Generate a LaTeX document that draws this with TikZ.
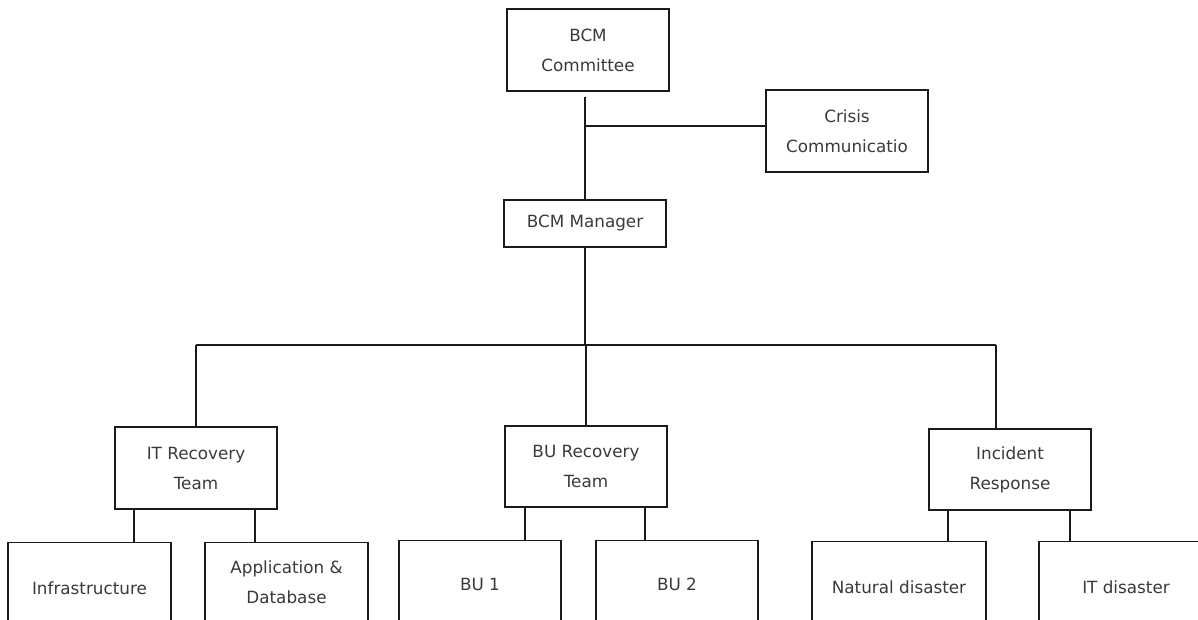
\documentclass[tikz,border=0pt]{standalone}
\usepackage{fontspec}
\setmainfont{DejaVu Sans}
\definecolor{txt}{HTML}{3A3A3A}
\definecolor{ln}{HTML}{1A1A1A}
\tikzset{
  box/.style={draw=ln, line width=1.2pt, rectangle, inner sep=0pt, align=center,
    text=txt, font=\fontsize{16.8}{30}\selectfont, minimum width=162pt, minimum height=82pt},
  conn/.style={draw=ln, line width=1.2pt}
}
\begin{document}
\begin{tikzpicture}[x=1pt,y=-1pt]
\useasboundingbox (0,0) rectangle (1198,619);
\clip (0,0) rectangle (1198,619);
\fill[white] (0,0) rectangle (1198,619);
% top level
\node[box] (committee) at (588,50) {BCM\\Committee};
\node[box] (crisis) at (847,131) {Crisis\\Communicatio};
\node[box, minimum height=47pt] (manager) at (585,223.5) {BCM Manager};
% second level
\node[box] (it) at (196,468) {IT Recovery\\Team};
\node[box, minimum height=81pt] (bu) at (586,466.5) {BU Recovery\\Team};
\node[box, minimum height=81pt] (inc) at (1010,469.5) {Incident\\Response};
% third level
\node[box, anchor=north, minimum width=163pt, minimum height=92pt] (infra) at (89.5,542) {Infrastructure};
\node[box, anchor=north, minimum width=163pt, minimum height=80pt] (app) at (286.5,542) {Application \&\\Database};
\node[box, anchor=north, minimum height=88pt] (bu1) at (480,540) {BU 1};
\node[box, anchor=north, minimum height=88pt] (bu2) at (677,540) {BU 2};
\node[box, anchor=north, minimum width=174pt, minimum height=92pt] (nat) at (899,541) {Natural disaster};
\node[box, anchor=north, minimum width=174pt, minimum height=92pt] (itd) at (1126,541) {IT disaster};
% connectors top
\coordinate (j1) at (585,126);
\coordinate (bus) at (585,345);
\draw[conn] ([yshift=-5pt]committee.south -| manager.north) -- (manager.north);
\draw[conn] (j1) -- (j1 -| crisis.west);
\draw[conn] (manager.south) -- (bus);
\draw[conn] (bus -| it.north) -- ([xshift=-14pt]bus -| inc.north);
\draw[conn] (bus -| it.north) -- (it.north);
\draw[conn] (bus -| bu.north) -- (bu.north);
\draw[conn] ([xshift=-14pt]bus -| inc.north) -- ([xshift=-14pt]inc.north);
% stubs
\draw[conn] ([xshift=-62pt]it.south) -- ([xshift=-62pt]it.south |- infra.north);
\draw[conn] ([xshift=59pt]it.south) -- ([xshift=59pt]it.south |- app.north);
\draw[conn] ([xshift=-61pt]bu.south) -- ([xshift=-61pt]bu.south |- bu1.north);
\draw[conn] ([xshift=59pt]bu.south) -- ([xshift=59pt]bu.south |- bu2.north);
\draw[conn] ([xshift=-62pt]inc.south) -- ([xshift=-62pt]inc.south |- nat.north);
\draw[conn] ([xshift=60pt]inc.south) -- ([xshift=60pt]inc.south |- itd.north);
\end{tikzpicture}
\end{document}
